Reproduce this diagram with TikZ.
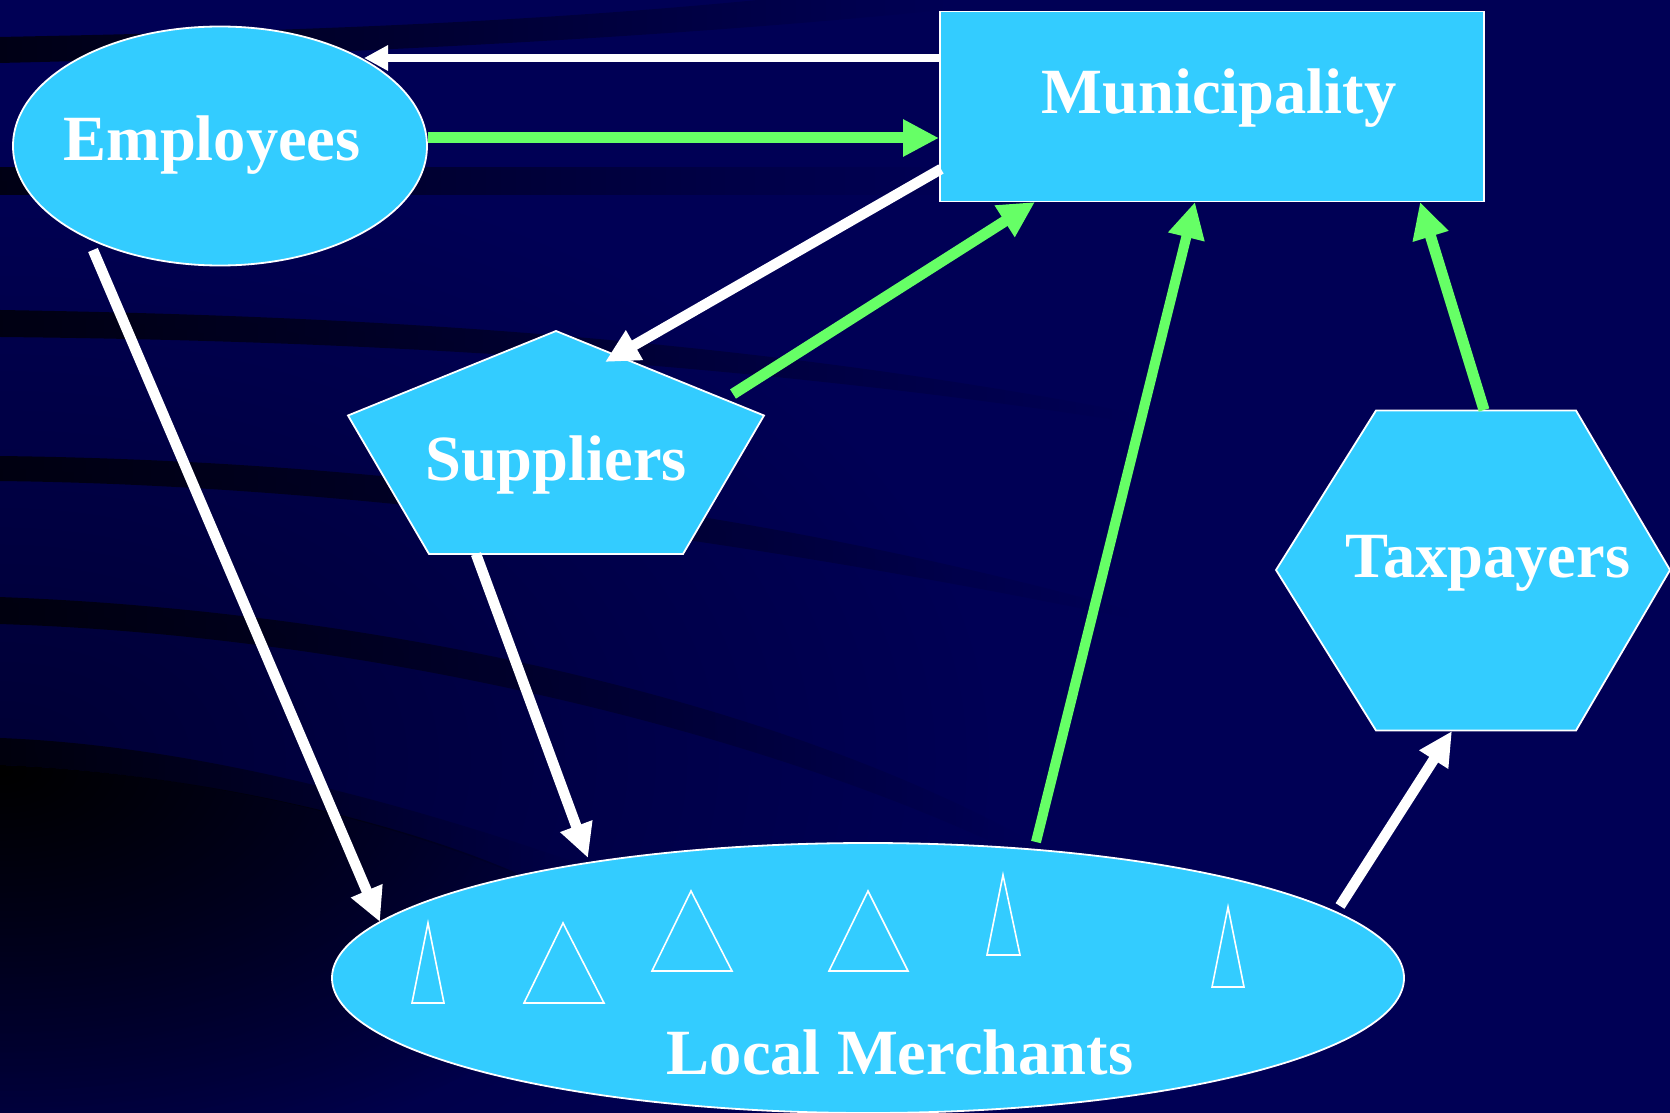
\documentclass[tikz,border=0pt]{standalone}
\usepackage{fontspec}
\setmainfont{Liberation Serif}
\usetikzlibrary{arrows.meta,fadings,calc,shapes.geometric}
\definecolor{navybg}{HTML}{000055}
\definecolor{shapeblue}{HTML}{33CCFF}
\definecolor{flowgreen}{HTML}{66FF66}
\tikzfading[name=bandfade, left color=transparent!25, right color=transparent!100]
\tikzfading[name=blobfade, inner color=transparent!0, outer color=transparent!100]
\tikzset{
  band/.style={fill=black, path fading=bandfade},
  actor/.style={draw=white, line width=1.8pt, fill=shapeblue, inner sep=0pt},
  lbl/.style={text=white, font=\bfseries\fontsize{64.5}{64.5}\selectfont, inner sep=0pt},
  tick/.style={draw=white, line width=1.6pt, line join=miter},
  whiteflow/.style={draw=white, line width=10.5pt, -{Triangle[length=34pt,width=32pt]}},
  greenflow/.style={draw=flowgreen, line width=11pt, -{Triangle[length=36pt,width=35pt]}}
}
\begin{document}
\begin{tikzpicture}[x=1pt,y=-1pt]
\useasboundingbox (0,0) rectangle (1670,1113);
\fill[navybg] (0,0) rectangle (1670,1113);
% background lighting
\begin{scope}
\clip (0,0) rectangle (1670,1113);
\fill[black, opacity=.38, path fading=blobfade] (0,760) ellipse [x radius=1000, y radius=620];
\begin{scope}
\clip (0,765) .. controls (180,772) and (380,815) .. (512,871) -- (900,1113) -- (0,1113) -- cycle;
\fill[black, path fading=blobfade] (0,770) ellipse [x radius=720, y radius=400];
\end{scope}
\fill[band] (0,37) .. controls (250,32) and (500,25) .. (760,0) -- (945,0) -- (945,10) .. controls (700,35) and (350,55) .. (0,63) -- cycle;
\fill[band] (0,167) -- (950,167) -- (950,195) -- (0,195) -- cycle;
\fill[band] (0,310) .. controls (300,315) and (700,330) .. (1130,412) -- (1130,422) .. controls (700,355) and (300,340) .. (0,337) -- cycle;
\fill[band] (0,456) .. controls (350,460) and (750,505) .. (1130,610) -- (1130,618) .. controls (750,540) and (350,485) .. (0,481) -- cycle;
\fill[band] (0,597) .. controls (350,610) and (750,690) .. (1020,835) -- (1020,855) .. controls (750,725) and (350,635) .. (0,624) -- cycle;
\fill[band, fill=black] (0,738) .. controls (180,745) and (380,795) .. (575,862) -- (530,880) .. controls (380,815) and (180,772) .. (0,765) -- cycle;
\end{scope}
% actors
\node[actor, ellipse, minimum width=414pt, minimum height=239pt] (emp) at (220,146) {};
\node[actor, rectangle, minimum width=544pt, minimum height=190pt] (muni) at (1212,106.5) {};
\node[actor, ellipse, minimum width=1072pt, minimum height=270pt] (loc) at (868,978) {};
\draw[actor] (556,331) coordinate (supTop) -- (764,415.5) -- (683,554) -- (429,554) -- (348,415.5) -- cycle;
\draw[actor] (1376,410.5) -- (1576,410.5) -- (1670,570) -- (1576,730.5) -- (1376,730.5) -- (1276,570) -- cycle;
% merchant stalls
\draw[tick] (428,923) -- (412,1003) -- (444,1003) -- cycle;
\draw[tick] (563,923) -- (524,1003) -- (604,1003) -- cycle;
\draw[tick] (691,891) -- (652,971) -- (732,971) -- cycle;
\draw[tick] (868,891) -- (829,971) -- (908,971) -- cycle;
\draw[tick] (1003,875) -- (987,955) -- (1020,955) -- cycle;
\draw[tick] (1228,907) -- (1212,987) -- (1244,987) -- cycle;
% labels
\node[lbl] (empL) at (212,145) {Employees};
\node[lbl] (muniL) at (1219,98) {Municipality};
\node[lbl] (supL) at (556,465) {Suppliers};
\node[lbl] (taxL) at (1488,563) {Taxpayers};
\node[lbl] (locL) at (900,1052) {Local Merchants};
% connector ends
\coordinate (muniA) at (939,58);
\coordinate (empA) at (364,58);
\coordinate (empB) at (428,138);
\coordinate (muniB) at (939,138);
\coordinate (muniC) at (941,169);
\coordinate (supC) at (605,362);
\coordinate (supD) at (733,394);
\coordinate (muniD) at (1035,202);
\coordinate (empE) at (93,250);
\coordinate (locE) at (380,922);
\coordinate (supF) at (476,554);
\coordinate (locF) at (588,858);
\coordinate (locG) at (1036,842);
\coordinate (muniG) at (1195,202);
\coordinate (taxH) at (1484,410);
\coordinate (muniH) at (1420,202);
\coordinate (locI) at (1340,906);
\coordinate (taxI) at (1452,731);
% connectors
\draw[whiteflow, line width=8pt, -{Triangle[length=24pt,width=24pt]}] (muniA) -- (empA);
\draw[greenflow, line width=11pt] (empB) -- (muniB);
\draw[whiteflow] (muniC) -- (supC);
\draw[greenflow] (supD) -- (muniD);
\draw[whiteflow] (empE) -- (locE);
\draw[whiteflow] (supF) -- (locF);
\draw[greenflow, line width=10pt] (locG) -- (muniG);
\draw[greenflow] (taxH) -- (muniH);
\draw[whiteflow] (locI) -- (taxI);
\end{tikzpicture}
\end{document}
